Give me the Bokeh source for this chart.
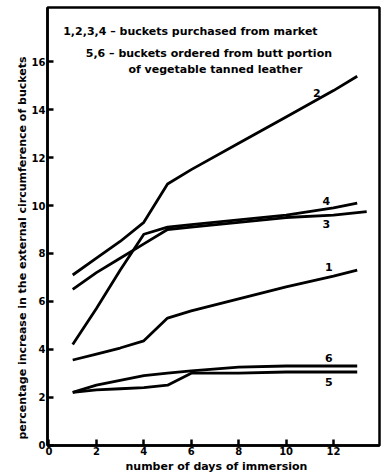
from bokeh.plotting import figure
from bokeh.models import Range1d, Label, FixedTicker, Title
from bokeh.core.properties import value
from bokeh.embed import file_html
from bokeh.resources import INLINE

days = [1, 2, 3, 4, 5, 6, 8, 10, 12, 13]
days3 = [1, 2, 3, 4, 5, 6, 8, 10, 12, 13.4]
curve1 = [3.55, 3.8, 4.05, 4.35, 5.3, 5.6, 6.1, 6.6, 7.05, 7.3]
curve2 = [7.1, 7.8, 8.5, 9.3, 10.9, 11.5, 12.6, 13.7, 14.8, 15.4]
curve3 = [6.5, 7.2, 7.8, 8.4, 9.0, 9.1, 9.3, 9.5, 9.6, 9.75]
curve4 = [4.2, 5.7, 7.3, 8.8, 9.1, 9.2, 9.4, 9.6, 9.9, 10.1]
curve5 = [2.2, 2.3, 2.35, 2.4, 2.5, 3.0, 3.0, 3.05, 3.05, 3.05]
curve6 = [2.2, 2.5, 2.7, 2.9, 3.0, 3.1, 3.25, 3.3, 3.3, 3.3]

label_names = ["2", "4", "3", "1", "6", "5"]
label_x = [11.3, 11.7, 11.7, 11.8, 11.8, 11.8]
label_y = [14.7, 10.2, 9.25, 7.45, 3.65, 2.65]

x_ticks = [0, 2, 4, 6, 8, 10, 12, 14]
y_ticks = [0, 2, 4, 6, 8, 10, 12, 14, 16]

FONT = "DejaVu Sans"

p = figure(width=383, height=472, output_backend="svg", toolbar_location=None,
           x_range=Range1d(-0.063, 13.94), y_range=Range1d(-0.02, 18.27),
           min_border_left=47, min_border_right=4, min_border_top=7, min_border_bottom=26)

p.grid.visible = False
p.outline_line_color = "black"
p.outline_line_width = 2.5
p.background_fill_color = "white"
p.border_fill_color = "white"

for ax in (p.xaxis[0], p.yaxis[0]):
    ax.axis_line_width = 2.5
    ax.major_tick_in = 6
    ax.major_tick_out = 0
    ax.major_tick_line_width = 2.5
    ax.minor_tick_line_color = None
    ax.major_label_text_font = FONT
    ax.major_label_text_font_style = "bold"
    ax.major_label_text_font_size = "10px"
    ax.major_label_text_color = "black"

p.xaxis.ticker = FixedTicker(ticks=x_ticks)
p.yaxis.ticker = FixedTicker(ticks=y_ticks)
p.xaxis.major_label_standoff = 1
p.yaxis.major_label_standoff = 2

for ys, xs in ((curve1, days), (curve2, days), (curve3, days3),
               (curve4, days), (curve5, days), (curve6, days)):
    p.line(xs, ys, line_color="black", line_width=2.8, line_join="round")

p.text(x=label_x, y=label_y, text=label_names, text_font=value(FONT),
       text_font_style="bold", text_font_size="11px", text_color="black",
       text_align="center", text_baseline="middle")

notes = [("1,2,3,4 \u2013 buckets purchased from market", 0.6, 17.25),
         ("5,6 \u2013 buckets ordered from butt portion", 1.55, 16.35),
         ("of vegetable tanned leather", 3.35, 15.7)]
for t, x, y in notes:
    p.add_layout(Label(x=x, y=y, text=t, text_font=FONT, text_font_style="bold",
                       text_font_size="11px", text_color="black", text_baseline="middle"))

# axis titles
p.add_layout(Title(text="number of  days  of  immersion", align="left", offset=78,
                   standoff=0, text_font=FONT, text_font_style="bold",
                   text_font_size="11px", text_color="black"), "below")
p.add_layout(Title(text="percentage increase in the external circumference of buckets",
                   align="left", offset=6, standoff=0, text_font=FONT,
                   text_font_style="bold", text_font_size="11px",
                   text_color="black"), "left")

open("out.html", "w").write(file_html(p, INLINE))
